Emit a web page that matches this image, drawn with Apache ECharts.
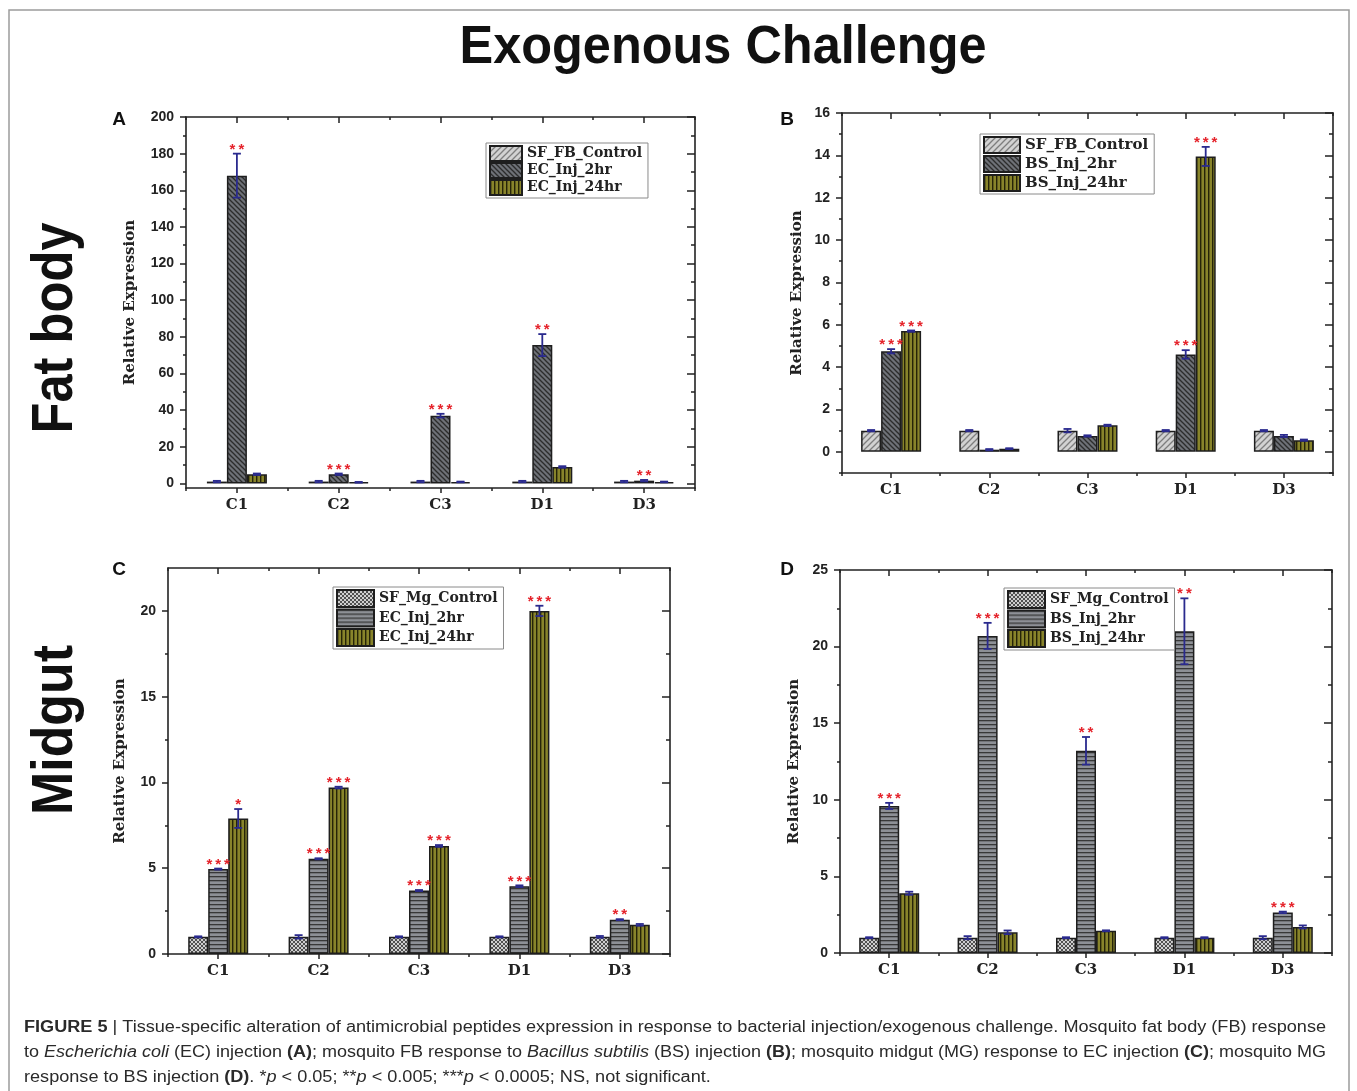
<!DOCTYPE html>
<html><head><meta charset="utf-8">
<script src="https://cdn.jsdelivr.net/npm/echarts@6/dist/echarts.min.js"></script>
<style>html,body{margin:0;padding:0;background:#fff}#chart{width:1357px;height:1091px}</style>
</head><body><div id="chart"></div>
<script>
// ---------------- DATA ----------------
const categories = ['C1', 'C2', 'C3', 'D1', 'D3'];

// Panel A: fat body, E. coli injection
const A_names = ['SF_FB_Control', 'EC_Inj_2hr', 'EC_Inj_24hr'];
const A_control = [1, 1, 1, 1, 1];
const A_control_err = [0.4, 0.4, 0.4, 0.4, 0.4];
const A_2hr = [168, 5, 37, 75.5, 1.5];
const A_2hr_err = [12, 0.4, 1, 6, 0.4];
const A_24hr = [5, 0.6, 0.8, 9, 0.8];
const A_24hr_err = [0.4, 0.2, 0.2, 0.4, 0.2];
const A_sig_2hr = ['**', '***', '***', '**', '**'];
const A_sig_24hr = ['', '', '', '', ''];
const A_ticks = [0, 20, 40, 60, 80, 100, 120, 140, 160, 180, 200];
const A_minor = [10, 30, 50, 70, 90, 110, 130, 150, 170, 190];

// Panel B: fat body, B. subtilis injection
const B_names = ['SF_FB_Control', 'BS_Inj_2hr', 'BS_Inj_24hr'];
const B_control = [1, 1, 1, 1, 1];
const B_control_err = [0.03, 0.03, 0.08, 0.03, 0.03];
const B_2hr = [4.75, 0.1, 0.75, 4.6, 0.75];
const B_2hr_err = [0.1, 0.03, 0.03, 0.2, 0.05];
const B_24hr = [5.7, 0.15, 1.25, 13.95, 0.55];
const B_24hr_err = [0.03, 0.02, 0.03, 0.45, 0.03];
const B_sig_2hr = ['***', '', '', '***', ''];
const B_sig_24hr = ['***', '', '', '***', ''];
const B_ticks = [0, 2, 4, 6, 8, 10, 12, 14, 16];
const B_minor = [-1, 1, 3, 5, 7, 9, 11, 13, 15];

// Panel C: midgut, E. coli injection
const C_names = ['SF_Mg_Control', 'EC_Inj_2hr', 'EC_Inj_24hr'];
const C_control = [1, 1, 1, 1, 1];
const C_control_err = [0.03, 0.1, 0.03, 0.03, 0.05];
const C_2hr = [4.95, 5.55, 3.7, 3.95, 2.0];
const C_2hr_err = [0.03, 0.03, 0.03, 0.05, 0.03];
const C_24hr = [7.9, 9.7, 6.3, 20.0, 1.7];
const C_24hr_err = [0.55, 0.05, 0.05, 0.3, 0.05];
const C_sig_2hr = ['***', '***', '***', '***', '**'];
const C_sig_24hr = ['*', '***', '***', '***', ''];
const C_ticks = [0, 5, 10, 15, 20];
const C_minor = [2.5, 7.5, 12.5, 17.5];

// Panel D: midgut, B. subtilis injection
const D_names = ['SF_Mg_Control', 'BS_Inj_2hr', 'BS_Inj_24hr'];
const D_control = [1, 1, 1, 1, 1];
const D_control_err = [0.03, 0.1, 0.03, 0.03, 0.1];
const D_2hr = [9.6, 20.7, 13.2, 21.0, 2.65];
const D_2hr_err = [0.2, 0.85, 0.9, 2.15, 0.05];
const D_24hr = [3.9, 1.35, 1.45, 1.0, 1.7];
const D_24hr_err = [0.1, 0.12, 0.03, 0.03, 0.1];
const D_sig_2hr = ['***', '***', '**', '**', '***'];
const D_sig_24hr = ['', '', '', '', ''];
const D_ticks = [0, 5, 10, 15, 20, 25];
const D_minor = [2.5, 7.5, 12.5, 17.5, 22.5];

const figTitle = 'Exogenous Challenge';
const rowLabels = ['Fat body', 'Midgut'];
const panelLetters = ['A', 'B', 'C', 'D'];
const yName = 'Relative Expression';

// ---------------- PATTERNS ----------------
function pattern(size, bg, draw) {
  const c = document.createElement('canvas');
  c.width = size; c.height = size;
  const ctx = c.getContext('2d');
  ctx.fillStyle = bg; ctx.fillRect(0, 0, size, size);
  draw(ctx, size);
  return { image: c, repeat: 'repeat' };
}
function diag(ctx, s, color, w, dir) {
  ctx.strokeStyle = color; ctx.lineWidth = w;
  const segs = dir > 0
    ? [[-s, s, s, -s], [0, s, s, 0], [0, 2 * s, 2 * s, 0]]
    : [[-s, 0, s, 2 * s], [0, 0, s, s], [0, -s, 2 * s, s]];
  segs.forEach(p => { ctx.beginPath(); ctx.moveTo(p[0], p[1]); ctx.lineTo(p[2], p[3]); ctx.stroke(); });
}
const P_diagLight = pattern(6, '#d2d2d2', (ctx, s) => diag(ctx, s, '#7e7e7e', 1.3, 1));
const P_diagDark = pattern(5, '#6e7177', (ctx, s) => diag(ctx, s, '#2c2c2c', 1.3, -1));
const P_olive = pattern(4, '#88842b', (ctx, s) => { ctx.fillStyle = '#262408'; ctx.fillRect(0, 0, 1.4, s); });
const P_check = pattern(4, '#cfcfcf', (ctx, s) => { diag(ctx, s, '#505050', 1, 1); diag(ctx, s, '#505050', 1, -1); });
const P_horiz = pattern(4, '#8d9096', (ctx, s) => { ctx.fillStyle = '#383838'; ctx.fillRect(0, 0, s, 1.3); });

// ---------------- LAYOUT ----------------
const BAR_W = 20;
const panels = [
  { key: 'A', names: A_names, vals: [A_control, A_2hr, A_24hr], errs: [A_control_err, A_2hr_err, A_24hr_err],
    sig: [null, A_sig_2hr, A_sig_24hr], ticks: A_ticks, minor: A_minor, min: -2.5, max: 200,
    pats: [P_diagLight, P_diagDark, P_olive],
    grid: { left: 186, top: 117, width: 509, height: 371 }, nameGap: 48,
    legend: { left: 486, top: 143, iw: 32, ih: 15, gap: 0, fs: 14 } },
  { key: 'B', names: B_names, vals: [B_control, B_2hr, B_24hr], errs: [B_control_err, B_2hr_err, B_24hr_err],
    sig: [null, B_sig_2hr, B_sig_24hr], ticks: B_ticks, minor: B_minor, min: -1, max: 16,
    pats: [P_diagLight, P_diagDark, P_olive],
    grid: { left: 842, top: 113, width: 491, height: 360 }, nameGap: 37,
    legend: { left: 980, top: 134, iw: 36, ih: 16, gap: 1, fs: 15 } },
  { key: 'C', names: C_names, vals: [C_control, C_2hr, C_24hr], errs: [C_control_err, C_2hr_err, C_24hr_err],
    sig: [null, C_sig_2hr, C_sig_24hr], ticks: C_ticks, minor: C_minor, min: 0, max: 22.5,
    pats: [P_check, P_horiz, P_olive],
    grid: { left: 168, top: 568, width: 502, height: 386 }, nameGap: 40,
    legend: { left: 333, top: 587, iw: 37, ih: 17, gap: 0.5, fs: 14 } },
  { key: 'D', names: D_names, vals: [D_control, D_2hr, D_24hr], errs: [D_control_err, D_2hr_err, D_24hr_err],
    sig: [null, D_sig_2hr, D_sig_24hr], ticks: D_ticks, minor: D_minor, min: 0, max: 25,
    pats: [P_check, P_horiz, P_olive],
    grid: { left: 840, top: 570, width: 492, height: 383 }, nameGap: 38,
    legend: { left: 1004, top: 588, iw: 37, ih: 17, gap: 0.5, fs: 14 } }
];

const AX = '#222';
const SERIF = '"DejaVu Serif", serif';
const SANS = '"Liberation Sans", Arial, sans-serif';
const grid = [], xAxis = [], yAxis = [], series = [], legend = [];

panels.forEach((p, g) => {
  grid.push(Object.assign({}, p.grid));
  const line = { show: true, onZero: false, lineStyle: { color: AX, width: 1.6 } };
  const noLine = { show: false, onZero: false };
  const tk = (len, inside) => ({ show: true, inside, length: len, lineStyle: { color: AX, width: 1.5 } });
  // x axes: bottom main, bottom minor, top main, top minor
  xAxis.push({ type: 'category', gridIndex: g, data: categories, position: 'bottom', axisLine: line,
    axisTick: Object.assign(tk(5, false), { alignWithLabel: true }),
    axisLabel: { margin: 10, color: AX, fontFamily: SERIF, fontWeight: 'bold', fontSize: 15 }, splitLine: { show: false } });
  xAxis.push({ type: 'category', gridIndex: g, data: categories, position: 'bottom', axisLine: noLine,
    axisTick: Object.assign(tk(3, false), { alignWithLabel: false }), axisLabel: { show: false }, splitLine: { show: false } });
  xAxis.push({ type: 'category', gridIndex: g, data: categories, position: 'top', axisLine: line,
    axisTick: Object.assign(tk(6, true), { alignWithLabel: true }), axisLabel: { show: false }, splitLine: { show: false } });
  xAxis.push({ type: 'category', gridIndex: g, data: categories, position: 'top', axisLine: noLine,
    axisTick: Object.assign(tk(3, true), { alignWithLabel: false }), axisLabel: { show: false }, splitLine: { show: false } });
  // y axes: left main, left minor, right main, right minor
  const base = { type: 'value', gridIndex: g, min: p.min, max: p.max, splitLine: { show: false } };
  yAxis.push(Object.assign({}, base, { position: 'left', axisLine: line,
    axisTick: Object.assign(tk(6, false), { customValues: p.ticks }),
    axisLabel: { customValues: p.ticks, margin: 12, color: AX, fontFamily: SANS, fontWeight: 'bold', fontSize: 14 },
    name: yName, nameLocation: 'middle', nameGap: p.nameGap,
    nameTextStyle: { color: AX, fontFamily: SERIF, fontWeight: 'bold', fontSize: 15 } }));
  yAxis.push(Object.assign({}, base, { position: 'left', axisLine: noLine,
    axisTick: Object.assign(tk(3, false), { customValues: p.minor }), axisLabel: { show: false } }));
  yAxis.push(Object.assign({}, base, { position: 'right', axisLine: line,
    axisTick: Object.assign(tk(8, true), { customValues: p.ticks }), axisLabel: { show: false } }));
  yAxis.push(Object.assign({}, base, { position: 'right', axisLine: noLine,
    axisTick: Object.assign(tk(4, true), { customValues: p.minor }), axisLabel: { show: false } }));

  const sNames = p.names.map(n => p.key + '|' + n);
  p.vals.forEach((vals, k) => {
    series.push({ type: 'bar', name: sNames[k], xAxisIndex: g * 4, yAxisIndex: g * 4,
      data: vals, barWidth: BAR_W, barGap: '0%', z: 2,
      itemStyle: { color: p.pats[k], borderColor: '#1e1e1e', borderWidth: 1.5 } });
  });
  // error bars and significance stars
  p.vals.forEach((vals, k) => {
    const errs = p.errs[k];
    series.push({ type: 'custom', xAxisIndex: g * 4, yAxisIndex: g * 4, z: 4, silent: true,
      data: vals.map((v, i) => [i, v, errs[i]]),
      renderItem(params, api) {
        const i = api.value(0), v = api.value(1), e = api.value(2);
        const hi = api.coord([i, v + e]), lo = api.coord([i, v - e]);
        const x = hi[0] + (k - 1) * BAR_W;
        const st = { stroke: '#2a2a8e', lineWidth: 1.8 };
        return { type: 'group', children: [
          { type: 'line', shape: { x1: x, y1: hi[1], x2: x, y2: lo[1] }, style: st },
          { type: 'line', shape: { x1: x - 4, y1: hi[1], x2: x + 4, y2: hi[1] }, style: st },
          { type: 'line', shape: { x1: x - 4, y1: lo[1], x2: x + 4, y2: lo[1] }, style: st }
        ] };
      } });
    const sig = p.sig[k];
    if (sig) {
      series.push({ type: 'custom', xAxisIndex: g * 4, yAxisIndex: g * 4, z: 5, silent: true,
        data: vals.map((v, i) => [i, v + errs[i]]),
        renderItem(params, api) {
          const s = sig[params.dataIndex];
          if (!s) return null;
          const pt = api.coord([api.value(0), api.value(1)]);
          return { type: 'text', x: pt[0] + (k - 1) * BAR_W, y: pt[1] - 4,
            style: { text: s.split('').join('\u2009'), fill: '#e5232b', font: 'bold 15px ' + SANS,
              align: 'center', verticalAlign: 'middle' } };
        } });
    }
  });
  const L = p.legend;
  legend.push({ left: L.left, top: L.top, orient: 'vertical', data: sNames, icon: 'rect',
    formatter: n => n.split('|')[1], itemWidth: L.iw, itemHeight: L.ih, itemGap: L.gap,
    padding: [2, 6, 2, 3], borderColor: '#8a8a8a', borderWidth: 1, backgroundColor: '#fff',
    selectedMode: false, textStyle: { color: AX, fontFamily: SERIF, fontWeight: 'bold', fontSize: L.fs, lineHeight: L.ih } });
});

// ---------------- TEXT HELPERS ----------------
const mctx = document.createElement('canvas').getContext('2d');
function measure(segs, fonts) {
  let w = 0;
  segs.forEach(([t, s]) => { mctx.font = fonts[s]; w += mctx.measureText(t).width; });
  return w;
}
const TITLE_FONT = 'bold 53px "Liberation Sans", Arial, sans-serif';
const titleScale = 527 / measure([[figTitle, 't']], { t: TITLE_FONT });
const ROW_FONT = 'bold 58px "Liberation Sans", Arial, sans-serif';
const rowScale = [211 / measure([[rowLabels[0], 't']], { t: ROW_FONT }), 170 / measure([[rowLabels[1], 't']], { t: ROW_FONT })];

const capFonts = { n: '16px "Liberation Sans"', b: 'bold 16px "Liberation Sans"', i: 'italic 16px "Liberation Sans"' };
const capLines = [
  [['FIGURE 5', 'b'], [' | Tissue-specific alteration of antimicrobial peptides expression in response to bacterial injection/exogenous challenge. Mosquito fat body (FB) response', 'n']],
  [['to ', 'n'], ['Escherichia coli', 'i'], [' (EC) injection ', 'n'], ['(A)', 'b'], ['; mosquito FB response to ', 'n'], ['Bacillus subtilis', 'i'], [' (BS) injection ', 'n'], ['(B)', 'b'], ['; mosquito midgut (MG) response to EC injection ', 'n'], ['(C)', 'b'], ['; mosquito MG', 'n']],
  [['response to BS injection ', 'n'], ['(D)', 'b'], ['. *', 'n'], ['p', 'i'], [' < 0.05; **', 'n'], ['p', 'i'], [' < 0.005; ***', 'n'], ['p', 'i'], [' < 0.0005; NS, not significant.', 'n']]
];
const capScale1 = 1302 / measure(capLines[0], capFonts);
const capScale2 = 1302 / measure(capLines[1], capFonts);
const capScales = [capScale1, capScale2, capScale1];
const capRich = {
  n: { fontFamily: 'Liberation Sans', fontSize: 16, fill: '#2a2a2a' },
  b: { fontFamily: 'Liberation Sans', fontSize: 16, fontWeight: 'bold', fill: '#2a2a2a' },
  i: { fontFamily: 'Liberation Sans', fontSize: 16, fontStyle: 'italic', fill: '#2a2a2a' }
};

const graphic = [
  { type: 'rect', shape: { x: 9, y: 10, width: 1340, height: 1110 }, style: { fill: 'none', stroke: '#9c9c9c', lineWidth: 1.5 }, silent: true },
  { type: 'text', x: 723, y: 48, scaleX: titleScale, style: { text: figTitle, font: TITLE_FONT, fill: '#111', align: 'center', verticalAlign: 'middle' } },
  { type: 'text', x: 56, y: 328, rotation: Math.PI / 2, scaleX: rowScale[0], style: { text: rowLabels[0], font: ROW_FONT, fill: '#111', align: 'center', verticalAlign: 'middle' } },
  { type: 'text', x: 56, y: 730, rotation: Math.PI / 2, scaleX: rowScale[1], style: { text: rowLabels[1], font: ROW_FONT, fill: '#111', align: 'center', verticalAlign: 'middle' } }
];
const letterPos = [[119, 120], [787, 120], [119, 570], [787, 570]];
panelLetters.forEach((t, i) => graphic.push({ type: 'text', x: letterPos[i][0], y: letterPos[i][1],
  style: { text: t, font: 'bold 19px ' + SANS, fill: '#111', align: 'center', verticalAlign: 'middle' } }));
capLines.forEach((segs, li) => graphic.push({ type: 'text', x: 24, y: 1028 + li * 25, scaleX: capScales[li],
  style: { text: segs.map(([t, s]) => '{' + s + '|' + t + '}').join(''), rich: capRich, verticalAlign: 'middle', align: 'left' } }));

const chart = echarts.init(document.getElementById('chart'), null, { renderer: 'canvas', devicePixelRatio: 1 });
chart.setOption({ animation: false, backgroundColor: '#fff', grid, xAxis, yAxis, legend, series, graphic });
</script></body></html>
